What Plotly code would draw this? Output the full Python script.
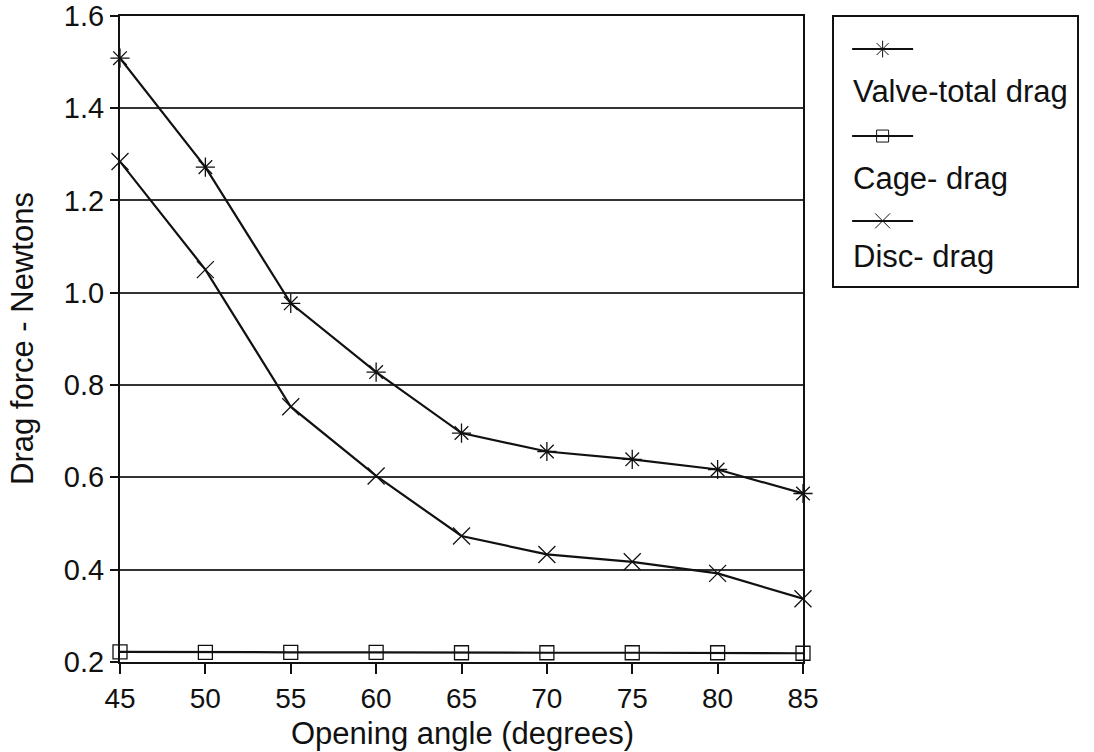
import plotly.graph_objects as go

# Opening angle of the valve disc (degrees)
angles = [45, 50, 55, 60, 65, 70, 75, 80, 85]

# Drag force components (Newtons)
valve_total = [1.508, 1.272, 0.977, 0.828, 0.696, 0.656, 0.639, 0.617, 0.565]
cage_drag = [0.222, 0.221, 0.221, 0.221, 0.220, 0.220, 0.220, 0.220, 0.219]
disc_drag = [1.284, 1.050, 0.753, 0.603, 0.473, 0.433, 0.417, 0.392, 0.337]

y_ticks = [0.2, 0.4, 0.6, 0.8, 1.0, 1.2, 1.4, 1.6]
x_ticks = angles

series = [
    ("Valve-total drag", valve_total, "asterisk-open", 16),
    ("Cage- drag", cage_drag, "square-open", 14),
    ("Disc- drag", disc_drag, "x-thin-open", 17),
]

FONT = "Liberation Sans, Arial, sans-serif"
INK = "#111111"
W, H = 1094, 752

# Page-pixel helpers for layout placement
def px(x):
    return x / W

def py(y):
    return 1 - y / H

fig = go.Figure()
for name, vals, sym, size in series:
    fig.add_trace(go.Scatter(
        x=angles, y=vals, mode="lines+markers", name=name,
        line=dict(color=INK, width=2.2),
        marker=dict(symbol=sym, size=size, color=INK,
                    line=dict(color=INK, width=1.3)),
        cliponaxis=False, showlegend=False,
    ))

# Legend box: sample line with marker, label underneath
line_rows = [0.878, 0.557, 0.244]
text_rows = [0.72, 0.402, 0.111]
lx0, lx1 = 0.078, 0.327
for (name, vals, sym, size), ly, ty in zip(series, line_rows, text_rows):
    fig.add_trace(go.Scatter(
        x=[lx0, lx1], y=[ly, ly], mode="lines",
        line=dict(color=INK, width=2),
        xaxis="x2", yaxis="y2", showlegend=False, hoverinfo="skip",
    ))
    fig.add_trace(go.Scatter(
        x=[(lx0 + lx1) / 2], y=[ly], mode="markers",
        marker=dict(symbol=sym, size=size - 2, color=INK,
                    line=dict(color=INK, width=1)),
        xaxis="x2", yaxis="y2", showlegend=False, hoverinfo="skip",
    ))
    fig.add_annotation(
        x=lx0 - 0.005, y=ty, xref="x2", yref="y2", text=name,
        showarrow=False, xanchor="left", yanchor="middle",
        font=dict(family=FONT, size=31, color=INK),
    )

# Axis titles
fig.add_annotation(
    x=px(462), y=py(733), xref="paper", yref="paper",
    text="Opening angle (degrees)", showarrow=False,
    xanchor="center", yanchor="middle",
    font=dict(family=FONT, size=31, color=INK),
)
fig.add_annotation(
    x=px(22), y=py(339), xref="paper", yref="paper",
    text="Drag force - Newtons", showarrow=False, textangle=-90,
    xanchor="center", yanchor="middle",
    font=dict(family=FONT, size=31, color=INK),
)

fig.update_layout(
    width=W, height=H,
    margin=dict(l=0, r=0, t=0, b=0),
    paper_bgcolor="white", plot_bgcolor="white",
    font=dict(family=FONT, color=INK),
    xaxis=dict(
        domain=[px(120), px(803)], automargin=False,
        ticklabeloverflow="allow",
        range=[45, 85], tickvals=x_ticks, ticks="outside", ticklen=10,
        tickwidth=2, tickcolor=INK, showgrid=False, zeroline=False,
        showline=True, linecolor=INK, linewidth=2.2, mirror=True,
        tickfont=dict(size=28, family=FONT, color=INK),
    ),
    yaxis=dict(
        domain=[py(662), py(15.7)], automargin=False,
        ticklabeloverflow="allow",
        range=[0.2, 1.6], tickvals=y_ticks, tickformat=".1f",
        ticks="outside", ticklen=8, tickwidth=2, tickcolor=INK,
        showgrid=True, gridcolor="#333333", gridwidth=2, zeroline=False,
        showline=True, linecolor=INK, linewidth=2.2, mirror=True,
        tickfont=dict(size=29, family=FONT, color=INK),
    ),
    xaxis2=dict(domain=[px(833), px(1078)], range=[0, 1], visible=False,
                fixedrange=True, anchor="y2"),
    yaxis2=dict(domain=[py(287), py(16)], range=[0, 1], visible=False,
                fixedrange=True, anchor="x2"),
    shapes=[dict(type="rect", xref="paper", yref="paper",
                 x0=px(833), x1=px(1078), y0=py(287), y1=py(16),
                 line=dict(color=INK, width=2))],
)

fig.write_html("out.html")
